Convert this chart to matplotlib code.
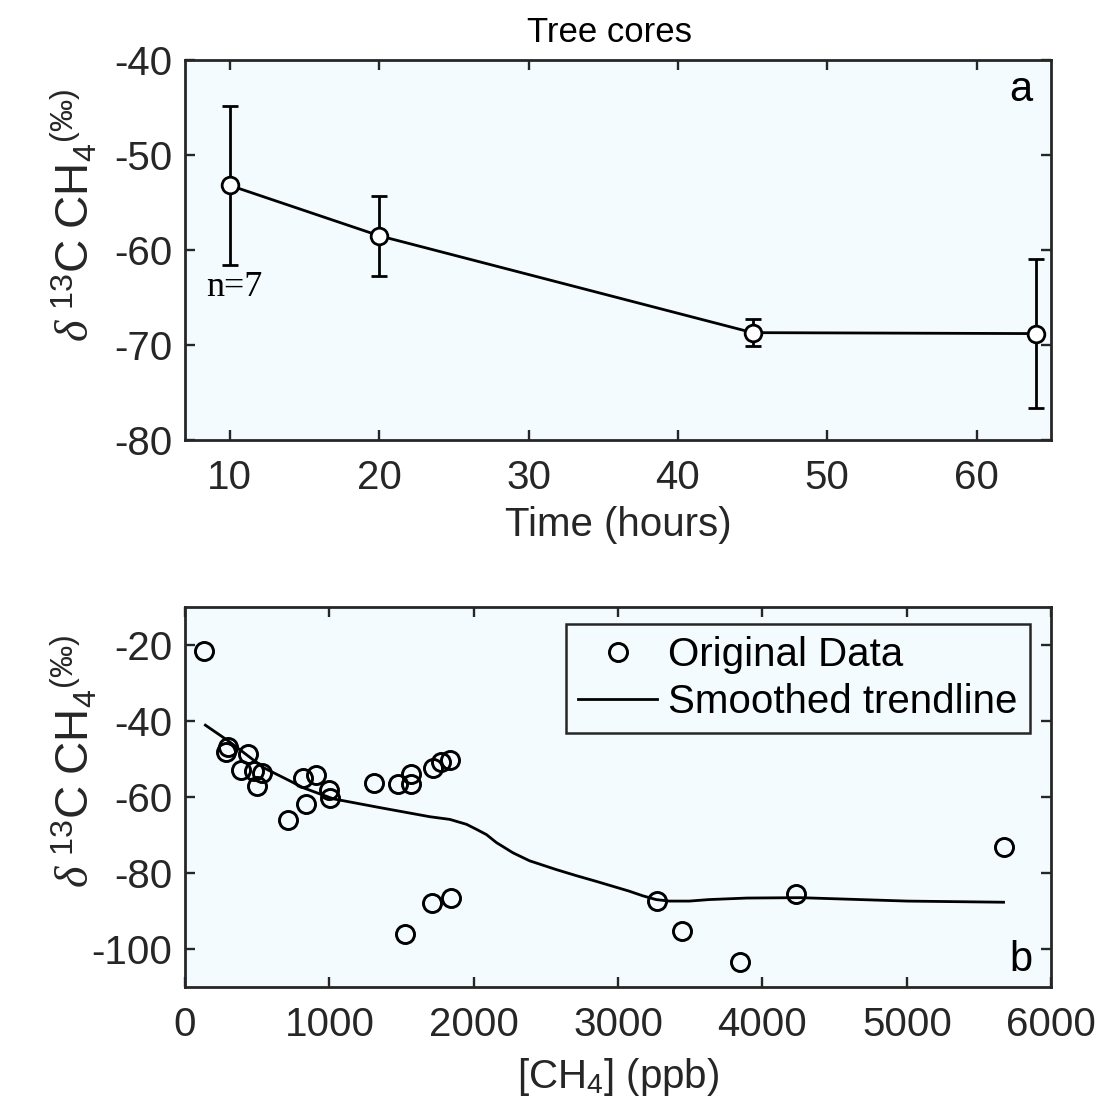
import matplotlib
matplotlib.use("Agg")
import matplotlib.pyplot as plt

plt.rcParams['font.family'] = ['Liberation Sans', 'DejaVu Sans']
plt.rcParams['mathtext.fontset'] = 'custom'
plt.rcParams['mathtext.rm'] = 'Liberation Sans'
plt.rcParams['mathtext.it'] = 'Liberation Serif:italic'
plt.rcParams['mathtext.bf'] = 'Liberation Sans:bold'
plt.rcParams['axes.unicode_minus'] = False

# panel a: tree cores over time
time_h = [10, 20, 45, 64]
d13c_mean = [-53.2, -58.5, -68.7, -68.8]
d13c_err = [8.4, 4.2, 1.45, 7.85]

# panel b: d13C vs CH4 concentration
ch4_ppb = [131, 282, 300, 385, 438, 478, 500, 535, 715, 819, 838, 907, 997, 1004,
           1311, 1477, 1523, 1563, 1565, 1712, 1720, 1770, 1835, 1840,
           3268, 3444, 3843, 4233, 5675]
d13c_pts = [-21.6, -48.2, -46.9, -52.9, -48.8, -53.2, -57.1, -53.8, -66.1, -54.9, -61.8, -54.3, -58.2, -60.4,
            -56.4, -56.5, -96.0, -54.0, -56.7, -88.0, -52.5, -50.7, -50.4, -86.7,
            -87.4, -95.2, -103.5, -85.5, -73.1]

trend_x = [141, 302, 544, 728, 820, 1028, 1350, 1696, 1834, 1950, 2018, 2088, 2157, 2272,
           2387, 2571, 2710, 2848, 2963, 3078, 3170, 3263, 3355, 3493, 3631, 3893, 4263,
           5003, 5670]
trend_y = [-41.1, -45.3, -52.3, -55.8, -57.6, -60.5, -62.8, -65.2, -65.9, -67.2, -68.5, -69.9, -72.0, -74.7,
           -76.8, -79.1, -80.7, -82.2, -83.5, -84.8, -86.0, -87.0, -87.4, -87.4, -87.0, -86.6, -86.5,
           -87.4, -87.7]

ink = '#262626'
bg = '#f3fbfe'
tick_fs = 29
lab_fs = 29
ylab = r'$\mathit{\delta}\ ^{13}\mathrm{C\ CH_4}{}^{\mathrm{(‰)}}$'

fig = plt.figure(figsize=(11.02, 11.03), dpi=100)
ax1 = fig.add_axes([0.1679, 0.6011, 0.786, 0.3445])
ax2 = fig.add_axes([0.1679, 0.1052, 0.786, 0.3445])

for ax in (ax1, ax2):
    ax.set_facecolor(bg)
    for s in ax.spines.values():
        s.set_color(ink)
        s.set_linewidth(2.0)
    ax.tick_params(direction='in', length=7, width=1.7, colors=ink,
                   labelsize=tick_fs, top=True, right=True)
    ax.tick_params(axis='x', pad=14)
    ax.tick_params(axis='y', pad=9)

# top panel
ax1.errorbar(time_h, d13c_mean, yerr=d13c_err, color='black', lw=2.0,
             elinewidth=2.0, capsize=6, capthick=2.0,
             marker='o', ms=12, mfc='white', mec='black', mew=2.0, zorder=3)
ax1.set_xlim(7, 65)
ax1.set_ylim(-80, -40)
ax1.set_xticks([10, 20, 30, 40, 50, 60])
ax1.set_yticks([-80, -70, -60, -50, -40])
ax1.set_xlabel('Time (hours)', fontsize=lab_fs, color=ink, labelpad=6)
ax1.set_ylabel(ylab, fontsize=33, color=ink)
ax1.yaxis.set_label_coords(-0.1, 0.59)
ax1.set_title('Tree cores', fontsize=25, color='black', pad=13, x=0.49)
ax1.text(10.3, -63.9, 'n=7', family='Liberation Serif', fontsize=26,
         ha='center', va='center', color='black')
ax1.text(0.965, 0.921, 'a', transform=ax1.transAxes, fontsize=30,
         ha='center', va='center', color='black')

# bottom panel
ax2.plot(ch4_ppb, d13c_pts, linestyle='none', marker='o', ms=13,
         mfc='none', mec='black', mew=2.1, label='Original Data', zorder=3)
ax2.plot(trend_x, trend_y, color='black', lw=2.0, label='Smoothed trendline')
ax2.set_xlim(0, 6000)
ax2.set_ylim(-110, -10)
ax2.set_xticks([0, 1000, 2000, 3000, 4000, 5000, 6000])
ax2.set_yticks([-100, -80, -60, -40, -20])
ax2.set_xlabel(r'[CH$_4$] (ppb)', fontsize=lab_fs, color=ink, labelpad=8)
ax2.set_ylabel(ylab, fontsize=33, color=ink)
ax2.yaxis.set_label_coords(-0.1, 0.595)
ax2.text(0.965, 0.071, 'b', transform=ax2.transAxes, fontsize=30,
         ha='center', va='center', color='black')
leg = ax2.legend(loc='upper right', bbox_to_anchor=(0.975, 0.955), fontsize=29,
                 frameon=True, fancybox=False, edgecolor=ink, facecolor=bg,
                 framealpha=1, handlelength=1.95, handletextpad=0.28,
                 borderpad=0.3, labelspacing=0.22, borderaxespad=0)
leg.get_frame().set_linewidth(1.8)

fig.savefig('out.png', dpi=100, facecolor='white')
